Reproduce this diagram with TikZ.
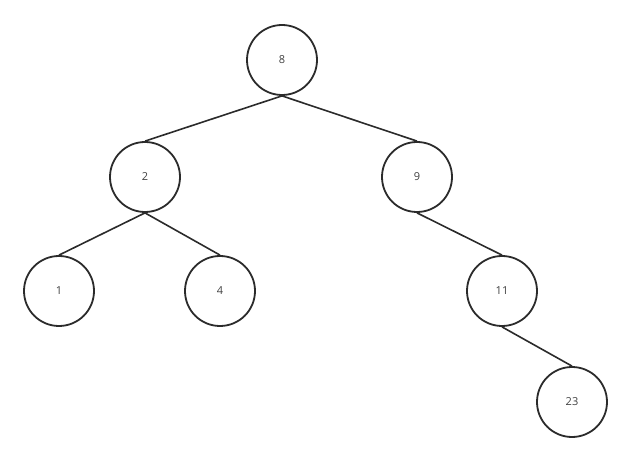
\documentclass[tikz,border=0pt]{standalone}
\usepackage{fontspec}
\setmainfont{Open Sans}
\definecolor{ink}{HTML}{2B2B2B}
\begin{document}
\begin{tikzpicture}[x=1pt,y=-1pt,
  tnode/.style={circle,draw=ink,line width=1.8pt,minimum size=70pt,inner sep=0pt,font=\fontsize{11}{13}\selectfont,text=ink!90},
  edge/.style={draw=ink,line width=1.6pt}]
\useasboundingbox (0,0) rectangle (632,462);
\node[tnode] (n8) at (282,60) {8};
\node[tnode] (n2) at (145,177) {2};
\node[tnode] (n9) at (417,177) {9};
\node[tnode] (n1) at (59,291) {1};
\node[tnode] (n4) at (220,291) {4};
\node[tnode] (n11) at (502,291) {11};
\node[tnode] (n23) at (572,402) {23};
\draw[edge] (n8.south) -- (n2.north);
\draw[edge] (n8.south) -- (n9.north);
\draw[edge] (n2.south) -- (n1.north);
\draw[edge] (n2.south) -- (n4.north);
\draw[edge] (n9.south) -- (n11.north);
\draw[edge] (n11.south) -- (n23.north);
\end{tikzpicture}
\end{document}
